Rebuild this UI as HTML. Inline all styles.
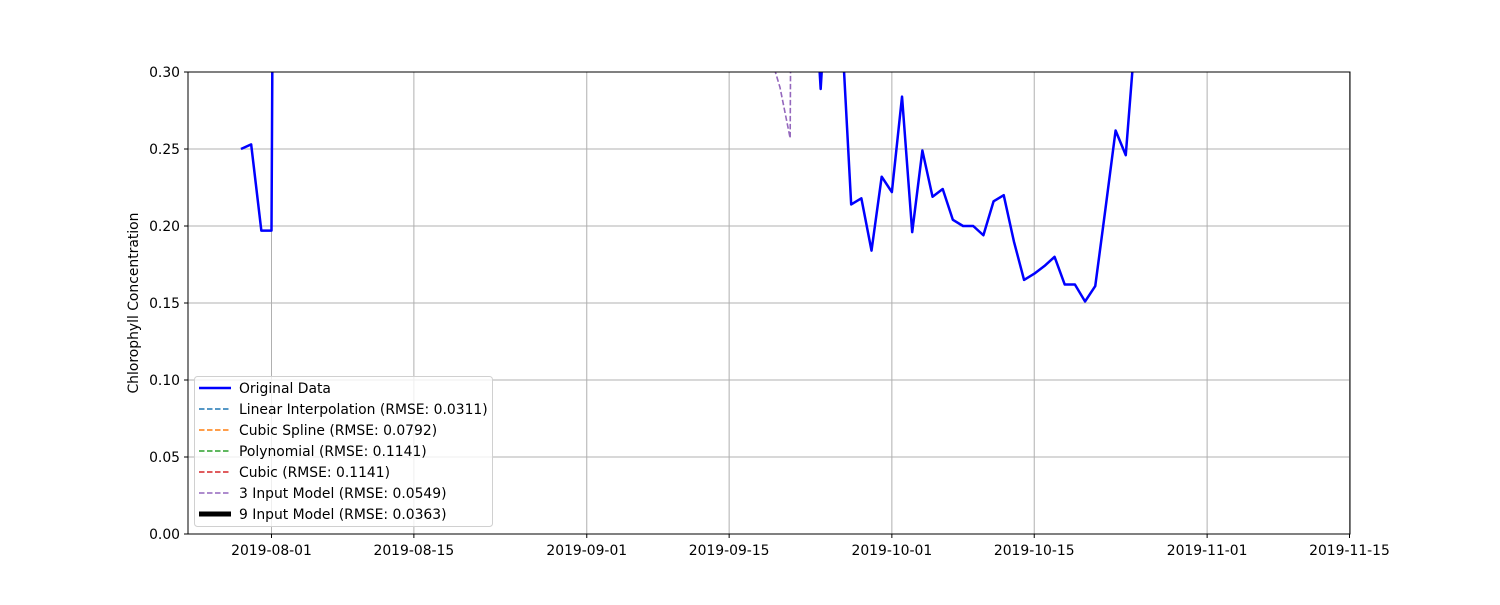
<!DOCTYPE html>
<html><head><meta charset="utf-8"><style>
body{margin:0;background:#fff;}
svg text{font-family:"DejaVu Sans","Liberation Sans",sans-serif;font-size:13.9px;fill:#000;}
</style></head><body>
<svg id="chart" width="1500" height="600" xmlns="http://www.w3.org/2000/svg"></svg>
<script>
// Data
const seg1Dates = ["2019-07-29","2019-07-30","2019-07-31","2019-08-01","2019-08-02"];
const seg1Values = [0.25,0.253,0.197,0.197,1.5];
const seg2Start = "2019-09-23";
const seg2Values = [0.4,0.289,0.4,0.337,0.214,0.218,0.184,0.232,0.222,0.284,0.196,0.249,0.219,0.224,0.204,0.200,0.200,0.194,0.216,0.220,0.190,0.165,0.169,0.174,0.180,0.162,0.162,0.151,0.161,0.211,0.262,0.246,0.33];
const model3Start = "2019-09-19";
const model3Values = [0.312,0.290,0.257,1.5];
const xTickLabels = ["2019-08-01","2019-08-15","2019-09-01","2019-09-15","2019-10-01","2019-10-15","2019-11-01","2019-11-15"];
const yTickValues = [0,0.05,0.10,0.15,0.20,0.25,0.30];
const legendLabels = ["Original Data","Linear Interpolation (RMSE: 0.0311)","Cubic Spline (RMSE: 0.0792)","Polynomial (RMSE: 0.1141)","Cubic (RMSE: 0.1141)","3 Input Model (RMSE: 0.0549)","9 Input Model (RMSE: 0.0363)"];
const legendColors = ["#0000ff","#1f77b4","#ff7f0e","#2ca02c","#d62728","#9467bd","#000000"];

const L=188,R=1350,T=72,B=534;
const DAY=86400000;
const d0=Date.parse("2019-08-01"), px0=271.5, pxPerDay=(1349.5-271.5)/106;
const xs=d=>px0+(Date.parse(d)-d0)/DAY*pxPerDay;
const ys=v=>B-(v/0.30)*(B-T);
const NS="http://www.w3.org/2000/svg";
const svg=document.getElementById('chart');
function mk(tag,attrs,parent){const e=document.createElementNS(NS,tag);for(const k in attrs)e.setAttribute(k,attrs[k]);(parent||svg).appendChild(e);return e;}
const addDays=(s,n)=>new Date(Date.parse(s)+n*DAY).toISOString().slice(0,10);

const defs=mk('defs',{});
const cp=mk('clipPath',{id:'clip'},defs);
mk('rect',{x:L,y:T,width:R-L,height:B-T},cp);

xTickLabels.forEach(t=>{const x=xs(t);
 if(x<=R+1){const g=mk('line',{x1:x,x2:x,y1:T,y2:B,stroke:'#b0b0b0','stroke-width':1});
 
 }
 const tk=mk('line',{x1:x,x2:x,y1:B,y2:B+4,stroke:'#000'});
 
 
 const tx=mk('text',{x:x,y:B+21,'text-anchor':'middle'});tx.textContent=t;
 
 
});
yTickValues.forEach(v=>{const y=ys(v);
 const g=mk('line',{x1:L,x2:R,y1:y,y2:y,stroke:'#b0b0b0','stroke-width':1});
 
 
 const tk=mk('line',{x1:L-4,x2:L,y1:y,y2:y,stroke:'#000'});
 
 
 const tx=mk('text',{x:L-8,y:y+5,'text-anchor':'end'});tx.textContent=v.toFixed(2);
 
 
});

const gS=mk('g',{'clip-path':'url(#clip)'});


const p1=mk('polyline',{points:seg1Dates.map((d,i)=>xs(d)+','+ys(seg1Values[i])).join(' '),fill:'none',stroke:'#0000ff','stroke-width':2.5,'stroke-linejoin':'round'},gS);


const p2=mk('polyline',{points:seg2Values.map((v,i)=>xs(addDays(seg2Start,i))+','+ys(v)).join(' '),fill:'none',stroke:'#0000ff','stroke-width':2.5,'stroke-linejoin':'round'},gS);


const p3=mk('polyline',{points:model3Values.map((v,i)=>xs(addDays(model3Start,i))+','+ys(v)).join(' '),fill:'none',stroke:'#9467bd','stroke-width':1.6,'stroke-dasharray':'5.5,2.5'},gS);



const fr=mk('rect',{x:L,y:T,width:R-L,height:B-T,fill:'none',stroke:'#000','stroke-width':1});



const yl=mk('text',{x:138,y:303,'text-anchor':'middle',transform:'rotate(-90 138 303)'});yl.textContent='Chlorophyll Concentration';



const lg=mk('g',{});


mk('rect',{x:194.5,y:376.5,width:298,height:150,rx:3,fill:'#fff','fill-opacity':0.8,stroke:'#d0d0d0'},lg);
legendLabels.forEach((lab,i)=>{const y=388+i*21;
 const ln=mk('line',{x1:199,x2:231,y1:y,y2:y,stroke:legendColors[i],'stroke-width':i==0?2.5:(i==6?5:1.6),'stroke-dasharray':(i==0||i==6)?'none':'5.5,2.5'},lg);
 
 
 const tx=mk('text',{x:239,y:y+5},lg);tx.textContent=lab;
 
 
});
</script>
</body></html>
